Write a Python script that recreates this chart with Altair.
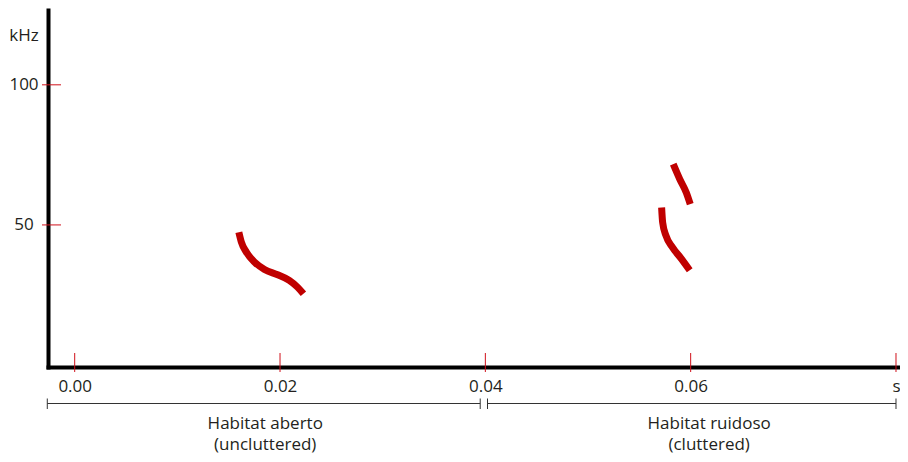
import altair as alt
import pandas as pd

# ---- data ----
# call segments (time in s, frequency in kHz)
call1_t = [0.01599, 0.01624, 0.01672, 0.01753, 0.01849, 0.01977, 0.02090, 0.02170, 0.02228]
call1_f = [47.4, 43.8, 40.3, 36.7, 34.1, 32.2, 30.2, 27.8, 25.4]
call2a_t = [0.05830, 0.05894, 0.05958, 0.05996]
call2a_f = [71.7, 66.3, 61.5, 57.4]
call2b_t = [0.05717, 0.05727, 0.05759, 0.05823, 0.05910, 0.05991]
call2b_f = [56.2, 50.9, 46.2, 42.0, 37.9, 33.8]

x_ticks = [0.00, 0.02, 0.04, 0.06, 0.08]
y_ticks = [50, 100]

bracket_start = [-0.00267, 0.04021]
bracket_end = [0.03950, 0.08000]
habitat_x = [0.01856, 0.06180]
habitat_line1 = ["Habitat aberto", "Habitat ruidoso"]
habitat_line2 = ["(uncluttered)", "(cluttered)"]

X_DOMAIN = [-0.0026, 0.08039]
Y_DOMAIN = [-0.7, 126.7]

FONT = "Open Sans"
TXT = "#231f20"
RED_TICK = "#d0101a"
RED_CALL = "#c00000"

H = 357

rows = []
for name, ts, fs in [("c1", call1_t, call1_f), ("c2a", call2a_t, call2a_f), ("c2b", call2b_t, call2b_f)]:
    for i, (t, f) in enumerate(zip(ts, fs)):
        rows.append({"seg": name, "t": t, "f": f, "o": i})
calls = pd.DataFrame(rows)

xs = alt.Scale(domain=X_DOMAIN, nice=False, zero=False)
ys = alt.Scale(domain=Y_DOMAIN, nice=False, zero=False)

X_AX = alt.Axis(
    values=x_ticks, labelExpr="datum.value >= 0.079 ? 's' : format(datum.value, '.2f')",
    domainColor="black", domainWidth=4, domainCap="square", ticks=False, grid=False,
    labelFont=FONT, labelFontSize=17, labelColor=TXT, labelBaseline="alphabetic",
    labelPadding=24.7, labelOverlap=False, labelFlush=False, title=None)
Y_AX = alt.Axis(
    values=y_ticks, domainColor="black", domainWidth=4, domainCap="square",
    ticks=False, grid=False, labelFont=FONT, labelFontSize=17, labelColor=TXT,
    labelAlign="center", labelBaseline="middle", labelPadding=24.5,
    labelOverlap=False, labelFlush=False,
    title="kHz", titleAngle=0, titleX=-24.5, titleY=30, titleAlign="center",
    titleBaseline="alphabetic", titleFont=FONT, titleFontSize=17,
    titleFontWeight="normal", titleColor=TXT)


def X(field="t"):
    return alt.X(f"{field}:Q", scale=xs, axis=X_AX)


def Y(field="f"):
    return alt.Y(f"{field}:Q", scale=ys, axis=Y_AX)


lines = alt.Chart(calls).mark_line(
    color=RED_CALL, strokeWidth=7, strokeCap="butt", interpolate="monotone"
).encode(x=X(), y=Y(), detail="seg:N", order="o:Q")

ytick_df = pd.DataFrame({"f": y_ticks})
ytick_rules = alt.Chart(ytick_df).mark_rule(color=RED_TICK, strokeWidth=1).encode(
    y=Y(), x=alt.value(-6), x2=alt.value(13))

xtick_df = pd.DataFrame({"t": x_ticks})
xtick_rules = alt.Chart(xtick_df).mark_rule(color=RED_TICK, strokeWidth=1).encode(
    x=X(), y=alt.value(H - 14), y2=alt.value(H + 5))

br_df = pd.DataFrame({"t": bracket_start, "t2": bracket_end})
br_lines = alt.Chart(br_df).mark_rule(color="#333333", strokeWidth=1).encode(
    x=X(), x2="t2:Q", y=alt.value(H + 36.5))

caps_df = pd.DataFrame({"t": bracket_start + bracket_end})
br_caps = alt.Chart(caps_df).mark_rule(color="#333333", strokeWidth=1).encode(
    x=X(), y=alt.value(H + 31.5), y2=alt.value(H + 42))

lab_df = pd.DataFrame({"t": habitat_x, "l1": habitat_line1, "l2": habitat_line2})
lab1 = alt.Chart(lab_df).mark_text(font=FONT, fontSize=17, color=TXT, align="center",
                                   baseline="alphabetic").encode(
    x=X(), y=alt.value(H + 61.5), text="l1:N")
lab2 = alt.Chart(lab_df).mark_text(font=FONT, fontSize=17, color=TXT, align="center",
                                   baseline="alphabetic").encode(
    x=X(), y=alt.value(H + 82.5), text="l2:N")

chart = alt.layer(lines, ytick_rules, xtick_rules, br_lines, br_caps, lab1, lab2).properties(
    width=852, height=H,
    autosize=alt.AutoSizeParams(type="none"),
    padding={"left": 40, "top": 2, "right": 0, "bottom": 87},
    background="white",
).configure_view(stroke=None)

chart.save("out.html", embed_options={"renderer": "svg", "actions": False})
